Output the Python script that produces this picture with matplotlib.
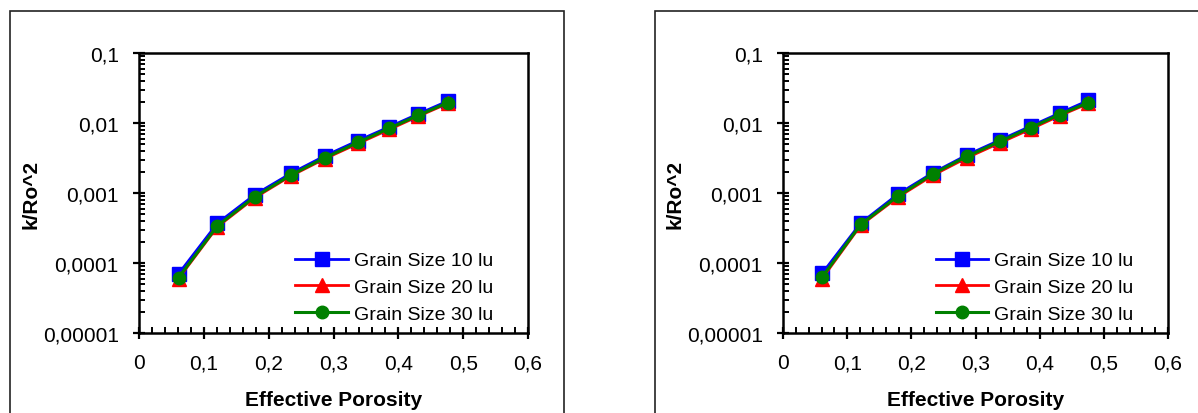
# k/Ro^2 vs effective porosity, two panels, log y axis
import numpy as np
import matplotlib.pyplot as plt
from matplotlib.ticker import FixedLocator, MultipleLocator, NullFormatter
from matplotlib.patches import Rectangle

# data
porosity = [0.061, 0.121, 0.179, 0.234, 0.287, 0.338, 0.386, 0.431, 0.476]

left_10lu = [7.0e-5, 3.7e-4, 9.5e-4, 1.9e-3, 3.4e-3, 5.6e-3, 8.8e-3, 1.35e-2, 2.05e-2]
left_20lu = [6.0e-5, 3.3e-4, 8.6e-4, 1.75e-3, 3.1e-3, 5.1e-3, 8.1e-3, 1.25e-2, 1.9e-2]
left_30lu = [6.2e-5, 3.4e-4, 8.9e-4, 1.8e-3, 3.2e-3, 5.3e-3, 8.4e-3, 1.29e-2, 1.95e-2]

right_10lu = [7.1e-5, 3.7e-4, 9.6e-4, 1.95e-3, 3.5e-3, 5.7e-3, 9.0e-3, 1.38e-2, 2.1e-2]
right_20lu = [6.0e-5, 3.45e-4, 8.7e-4, 1.8e-3, 3.2e-3, 5.2e-3, 8.2e-3, 1.27e-2, 1.9e-2]
right_30lu = [6.3e-5, 3.55e-4, 9.0e-4, 1.88e-3, 3.35e-3, 5.45e-3, 8.6e-3, 1.32e-2, 1.96e-2]

series_labels = ['Grain Size 10 lu', 'Grain Size 20 lu', 'Grain Size 30 lu']

xticks = [0, 0.1, 0.2, 0.3, 0.4, 0.5, 0.6]
xtick_labels = ['0', '0,1', '0,2', '0,3', '0,4', '0,5', '0,6']
yticks = [1e-5, 1e-4, 1e-3, 1e-2, 1e-1]
ytick_labels = ['0,00001', '0,0001', '0,001', '0,01', '0,1']

plt.rc('font', family=['Liberation Sans', 'DejaVu Sans'], size=14)

fig = plt.figure(figsize=(11.98, 4.14), dpi=100)

# outer boxes around each chart (right one runs off the edge)
for x0 in [10/1198, 655/1198]:
	fig.patches.append(Rectangle((x0, -0.1), 554/1198, 1.1 - 12/414, transform=fig.transFigure,
		fill=False, edgecolor='#222222', linewidth=1.2))

def panel(ax, y10, y20, y30):
	ax.plot(porosity, y10, color='blue', marker='s', markersize=9.5, linewidth=2, label=series_labels[0])
	ax.plot(porosity, y20, color='red', marker='^', markersize=9.5, linewidth=2, label=series_labels[1])
	ax.plot(porosity, y30, color='green', marker='o', markersize=9, linewidth=2.2, label=series_labels[2])
	ax.set_yscale('log')
	ax.set_xlim(0, 0.6)
	ax.set_ylim(1e-5, 1e-1)
	ax.set_xticks(xticks)
	ax.set_xticklabels(xtick_labels)
	ax.set_yticks(yticks)
	ax.set_yticklabels(ytick_labels)
	ax.xaxis.set_minor_locator(MultipleLocator(0.02))
	ymin = [m * 10.0**e for e in range(-5, -1) for m in range(2, 10)]
	ax.yaxis.set_minor_locator(FixedLocator(ymin))
	ax.yaxis.set_minor_formatter(NullFormatter())
	ax.tick_params(which='major', direction='inout', length=9, width=1.6, pad=10, labelsize=15, top=False, right=False)
	ax.tick_params(which='minor', direction='in', length=4, width=1.4, top=False, right=False)
	for s in ax.spines.values():
		s.set_linewidth(1.8)
	ax.set_xlabel('Effective Porosity', fontsize=15, fontweight='bold', labelpad=13)
	ax.set_ylabel('k/Ro^2', fontsize=15, fontweight='bold', labelpad=2)
	ax.legend(loc='lower right', bbox_to_anchor=(0.91, 0.035), frameon=False,
		borderpad=0, borderaxespad=0, handlelength=2.7, handletextpad=0.3, labelspacing=0.48)

ax1 = fig.add_axes([139/1198, 1 - 334/414, 389/1198, 280/414])
ax2 = fig.add_axes([783/1198, 1 - 334/414, 385/1198, 280/414])
panel(ax1, left_10lu, left_20lu, left_30lu)
panel(ax2, right_10lu, right_20lu, right_30lu)

plt.savefig('out.png', dpi=100)
